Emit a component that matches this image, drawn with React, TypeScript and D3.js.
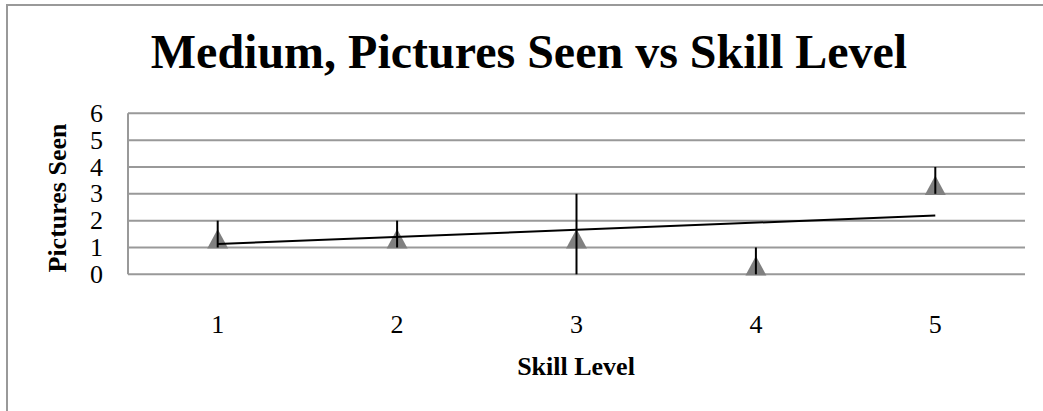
import React from "react";
import * as d3 from "d3";

const categories = ["1", "2", "3", "4", "5"];
const values = [1.5, 1.5, 1.5, 0.5, 3.5];
const errLow = [1, 1, 0, 0, 3];
const errHigh = [2, 2, 3, 1, 4];
const yTicks = [0, 1, 2, 3, 4, 5, 6];
const trendStart = 1.13;
const trendEnd = 2.19;

const W = 1043;
const H = 411;
const left = 128;
const right = 1025;
const top = 113.3;
const bottom = 274.3;
const serif = "'Liberation Serif', 'Times New Roman', serif";

export default function App() {
  const x = d3.scaleBand<string>().domain(categories).range([left, right]);
  const y = d3.scaleLinear().domain([0, 6]).range([bottom, top]);
  const cx = (c: string) => (x(c) as number) + x.bandwidth() / 2;
  const tri = (px: number, py: number) =>
    `M${px},${py - 5} L${px + 10.5},${py + 14.5} L${px - 10.5},${py + 14.5} Z`;
  const line = d3.line<[number, number]>()([
    [cx(categories[0]), y(trendStart)],
    [cx(categories[categories.length - 1]), y(trendEnd)],
  ]);
  return (
    <svg
      width={W}
      height={H}
      style={{ position: "absolute", left: 0, top: 0 }}
      fontFamily={serif}
    >
      <rect x={0} y={0} width={W} height={H} fill="#fff" />
      <path d={`M7,${H} L7,5 L${W},5`} fill="none" stroke="#999" strokeWidth={2} />
      <text x={529} y={68} textAnchor="middle" fontSize={48} fontWeight="bold">
        Medium, Pictures Seen vs Skill Level
      </text>
      {yTicks.map((t) => (
        <g key={t}>
          <line x1={left} x2={right} y1={y(t)} y2={y(t)} stroke="#999" strokeWidth={2} />
          <text x={103} y={y(t)} dy="0.33em" textAnchor="end" fontSize={26}>
            {t}
          </text>
        </g>
      ))}
      <line x1={left} x2={left} y1={top} y2={bottom} stroke="#999" strokeWidth={2} />
      {categories.map((c) => (
        <text key={c} x={cx(c)} y={333} textAnchor="middle" fontSize={26}>
          {c}
        </text>
      ))}
      {categories.map((c, i) => (
        <path key={"m" + c} d={tri(cx(c), y(values[i]))} fill="#808080" />
      ))}
      {categories.map((c, i) => (
        <line
          key={"e" + c}
          x1={cx(c)}
          x2={cx(c)}
          y1={y(errLow[i])}
          y2={y(errHigh[i])}
          stroke="#000"
          strokeWidth={2}
        />
      ))}
      <path d={line || ""} stroke="#000" strokeWidth={2} fill="none" />
      <text x={576} y={375} textAnchor="middle" fontSize={26} fontWeight="bold">
        Skill Level
      </text>
      <text
        transform={`translate(66,198) rotate(-90)`}
        textAnchor="middle"
        fontSize={26}
        fontWeight="bold"
      >
        Pictures Seen
      </text>
    </svg>
  );
}
